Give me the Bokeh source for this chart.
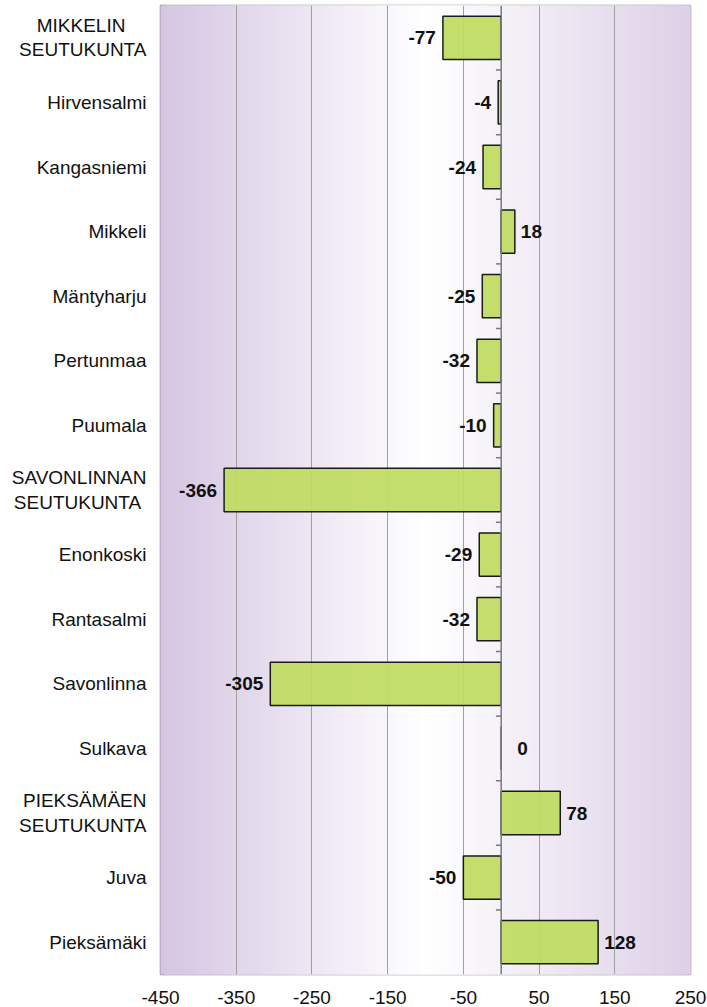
from bokeh.plotting import figure
from bokeh.models import Range1d, FixedTicker, Span, LabelSet, ColumnDataSource
from bokeh.embed import file_html
from bokeh.resources import INLINE
from bokeh.core.properties import value

categories = ["MIKKELIN\nSEUTUKUNTA", "Hirvensalmi", "Kangasniemi", "Mikkeli", "Mäntyharju",
              "Pertunmaa", "Puumala", "SAVONLINNAN\nSEUTUKUNTA", "Enonkoski", "Rantasalmi",
              "Savonlinna", "Sulkava", "PIEKSÄMÄEN\nSEUTUKUNTA", "Juva", "Pieksämäki"]
values = [-77, -4, -24, 18, -25, -32, -10, -366, -29, -32, -305, 0, 78, -50, 128]
x_ticks = [-450, -350, -250, -150, -50, 50, 150, 250]

n = len(categories)
ys = [n - 1 - i for i in range(n)]
xmin, xmax = -450, 250
FONT = "Liberation Sans"

p = figure(width=707, height=1007, output_backend="svg", toolbar_location=None,
           x_range=Range1d(xmin, xmax), y_range=Range1d(-0.5, n - 0.5),
           min_border_left=160, min_border_right=17, min_border_top=5, min_border_bottom=33)
p.background_fill_color = "white"
p.border_fill_color = "white"
p.outline_line_color = "#8c8c8c"
p.outline_line_width = 1.5

# gradient background: lavender - white - lavender
steps = 140
left_c = (213, 197, 226)
mid_c = (255, 255, 255)
right_c = (221, 208, 231)
gx0, gx1, gc = [], [], []
w = (xmax - xmin) / steps
for k in range(steps):
    t = (k + 0.5) / steps
    if t < 0.5:
        a = t / 0.5
        c = tuple(int(round(left_c[j] + (mid_c[j] - left_c[j]) * a)) for j in range(3))
    else:
        a = (t - 0.5) / 0.5
        c = tuple(int(round(mid_c[j] + (right_c[j] - mid_c[j]) * a)) for j in range(3))
    gx0.append(xmin + k * w)
    gx1.append(min(xmax, xmin + (k + 2) * w))
    gc.append("#%02x%02x%02x" % c)
p.quad(left=gx0, right=gx1, bottom=-0.5, top=n - 0.5, fill_color=gc, line_color=gc,
       line_width=1, level="image")

# grid
p.xaxis.ticker = FixedTicker(ticks=x_ticks)
p.xaxis.major_label_overrides = {t: str(t) for t in x_ticks}
p.xgrid.grid_line_color = "#a0a0a0"
p.xgrid.grid_line_width = 1
p.ygrid.grid_line_color = None

src = ColumnDataSource(dict(y=ys, v=values, zero=[0] * n))
p.hbar(y="y", left="zero", right="v", height=0.67, source=src,
       fill_color="#bfdb5f", fill_alpha=0.92, line_color="#1a1a1a", line_width=1.5)

# zero axis line and tick marks between categories
p.add_layout(Span(location=0, dimension="height", line_color="#7a7a7a", line_width=1.5))
bounds = [i + 0.5 for i in range(n - 1)]
p.segment(x0=[0] * len(bounds), x1=[-7] * len(bounds), y0=bounds, y1=bounds,
          line_color="#7a7a7a", line_width=1.5)

# value labels
neg = [i for i, v in enumerate(values) if v < 0]
pos = [i for i, v in enumerate(values) if v >= 0]
src_neg = ColumnDataSource(dict(x=[values[i] for i in neg], y=[ys[i] for i in neg],
                                t=[str(values[i]) for i in neg]))
src_pos = ColumnDataSource(dict(x=[values[i] for i in pos], y=[ys[i] for i in pos],
                                t=[str(values[i]) for i in pos],
                                off=[16 if values[i] == 0 else 6 for i in pos]))
p.add_layout(LabelSet(x="x", y="y", text="t", source=src_neg, x_offset=-7, text_align="right",
                      text_baseline="middle", text_font=value(FONT), text_font_style="bold",
                      text_font_size="19px", text_color="#111111"))
p.add_layout(LabelSet(x="x", y="y", text="t", source=src_pos, x_offset="off", text_align="left",
                      text_baseline="middle", text_font=value(FONT), text_font_style="bold",
                      text_font_size="19px", text_color="#111111"))

# category labels: two-line ones visually centred by padding the shorter line
NB = "\u00a0"
def centred(label):
    if "\n" not in label:
        return label
    a, b = label.split("\n")
    pad = {"MIKKELIN": (4, 0), "SAVONLINNAN": (0, 1)}.get(a, (0, 0))
    return a + NB * pad[0] + "\n" + b + NB * pad[1]

# axes
p.xaxis.axis_line_color = None
p.xaxis.major_tick_line_color = None
p.xaxis.minor_tick_line_color = None
p.xaxis.major_label_text_font = FONT
p.xaxis.major_label_text_font_size = "19px"
p.xaxis.major_label_text_color = "#111111"
p.xaxis.major_label_standoff = 10

p.yaxis.ticker = FixedTicker(ticks=ys)
p.yaxis.major_label_overrides = {ys[i]: centred(categories[i]) for i in range(n)}
p.yaxis.axis_line_color = None
p.yaxis.major_tick_line_color = None
p.yaxis.minor_tick_line_color = None
p.yaxis.major_label_text_font = FONT
p.yaxis.major_label_text_font_size = "19px"
p.yaxis.major_label_text_color = "#111111"
p.yaxis.major_label_text_line_height = 1.15
p.yaxis.major_label_standoff = 8

open("out.html", "w").write(file_html(p, INLINE))
